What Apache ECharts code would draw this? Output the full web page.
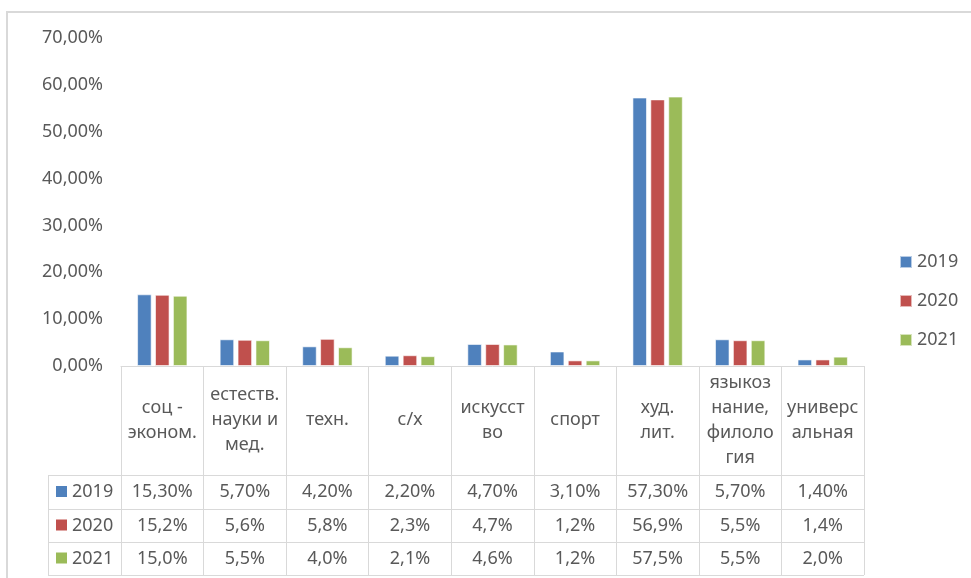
<!DOCTYPE html>
<html>
<head>
<meta charset="utf-8">
<script src="https://cdn.jsdelivr.net/npm/echarts@6/dist/echarts.min.js"></script>
<style>
    html, body { margin: 0; padding: 0; background: #fff; }
    #chart { width: 971px; height: 578px; }
</style>
</head>
<body>
<div id="chart"></div>
<script>
// данные диаграммы
var categories = ['соц -\nэконом.', 'естеств.\nнауки и\nмед.', 'техн.', 'с/х', 'искусст\nво', 'спорт', 'худ.\nлит.', 'языкоз\nнание,\nфилоло\nгия', 'универс\nальная'];
var years = ['2019', '2020', '2021'];
var data2019 = [15.3, 5.7, 4.2, 2.2, 4.7, 3.1, 57.3, 5.7, 1.4];
var data2020 = [15.2, 5.6, 5.8, 2.3, 4.7, 1.2, 56.9, 5.5, 1.4];
var data2021 = [15.0, 5.5, 4.0, 2.1, 4.6, 1.2, 57.5, 5.5, 2.0];
var decimals = [2, 1, 1];
var yTicks = [0, 10, 20, 30, 40, 50, 60, 70];

var colors = ['#4F81BD', '#C0504D', '#9BBB59'];
var textColor = '#595959', lineColor = '#D9D9D9', fontFamily = 'Noto Sans', fontSize = 18;
var seriesData = [data2019, data2020, data2021];

// геометрия таблицы данных
var gridLeft = 121, gridRight = 864, axisY = 366;
var rowLines = [475, 509, 542, 575];
var tableLeft = 48;

const fmt = function (v, d) {
    return v.toFixed(d).replace('.', ',') + '%';
};

var chart = echarts.init(document.getElementById('chart'));

var xAxes = [{
    type: 'category',
    data: categories,
    position: 'bottom',
    axisLine: {lineStyle: {color: lineColor, width: 1}},
    axisTick: {show: true, interval: 0, length: rowLines[3] - axisY, lineStyle: {color: lineColor}},
    axisLabel: {
        interval: 0, margin: 54, verticalAlign: 'middle', lineHeight: 25,
        color: textColor, fontFamily: fontFamily, fontSize: fontSize
    }
}];
// строки таблицы значений — отдельные оси с подписями
seriesData.forEach(function (arr, i) {
    xAxes.push({
        type: 'category',
        data: categories,
        position: 'bottom',
        axisLine: {show: false},
        axisTick: {show: false},
        axisLabel: {
            interval: 0,
            margin: (rowLines[i] + rowLines[i + 1]) / 2 - axisY,
            verticalAlign: 'middle',
            color: textColor, fontFamily: fontFamily, fontSize: fontSize,
            formatter: function (v, idx) {
                return fmt(arr[idx], decimals[i]);
            }
        }
    });
});

var graphics = [{
    type: 'rect',
    shape: {x: 7, y: 12, width: 1000, height: 620},
    style: {fill: null, stroke: lineColor, lineWidth: 2},
    silent: true
}];
rowLines.forEach(function (y) {
    graphics.push({
        type: 'line',
        shape: {x1: tableLeft, y1: y + 0.5, x2: gridRight, y2: y + 0.5},
        style: {stroke: lineColor, lineWidth: 1}
    });
});
graphics.push({
    type: 'line',
    shape: {x1: tableLeft + 0.5, y1: rowLines[0], x2: tableLeft + 0.5, y2: rowLines[3]},
    style: {stroke: lineColor, lineWidth: 1}
});
years.forEach(function (yr, i) {
    var cy = (rowLines[i] + rowLines[i + 1]) / 2;
    graphics.push({
        type: 'rect',
        shape: {x: 56, y: cy - 6, width: 11, height: 11},
        style: {fill: colors[i]}
    });
    graphics.push({
        type: 'text',
        x: 72, y: cy,
        style: {text: yr, fill: textColor, font: fontSize + 'px "' + fontFamily + '"', verticalAlign: 'middle'}
    });
});

chart.setOption({
    animation: false,
    color: colors,
    grid: {
        left: gridLeft,
        right: 971 - gridRight,
        top: 38,
        bottom: 578 - axisY,
        containLabel: false
    },
    legend: {
        data: years,
        orient: 'vertical',
        left: 894,
        top: 247,
        itemWidth: 12,
        itemHeight: 12,
        itemGap: 19,
        icon: 'rect',
        textStyle: {color: textColor, fontFamily: fontFamily, fontSize: fontSize, lineHeight: 20}
    },
    xAxis: xAxes,
    yAxis: {
        type: 'value',
        min: yTicks[0],
        max: yTicks[yTicks.length - 1],
        interval: 10,
        axisLine: {show: false},
        axisTick: {show: false},
        splitLine: {show: false},
        axisLabel: {
            margin: 18,
            color: textColor, fontFamily: fontFamily, fontSize: fontSize,
            formatter: function (v) {
                return fmt(v, 2);
            }
        }
    },
    series: years.map(function (yr, i) {
        return {
            name: yr,
            type: 'bar',
            xAxisIndex: 0,
            data: seriesData[i],
            barGap: '23%',
            barCategoryGap: '39%',
            itemStyle: {color: colors[i], borderColor: 'rgba(255,255,255,0.6)', borderWidth: 1}
        };
    }),
    graphic: graphics
});
</script>
</body>
</html>
